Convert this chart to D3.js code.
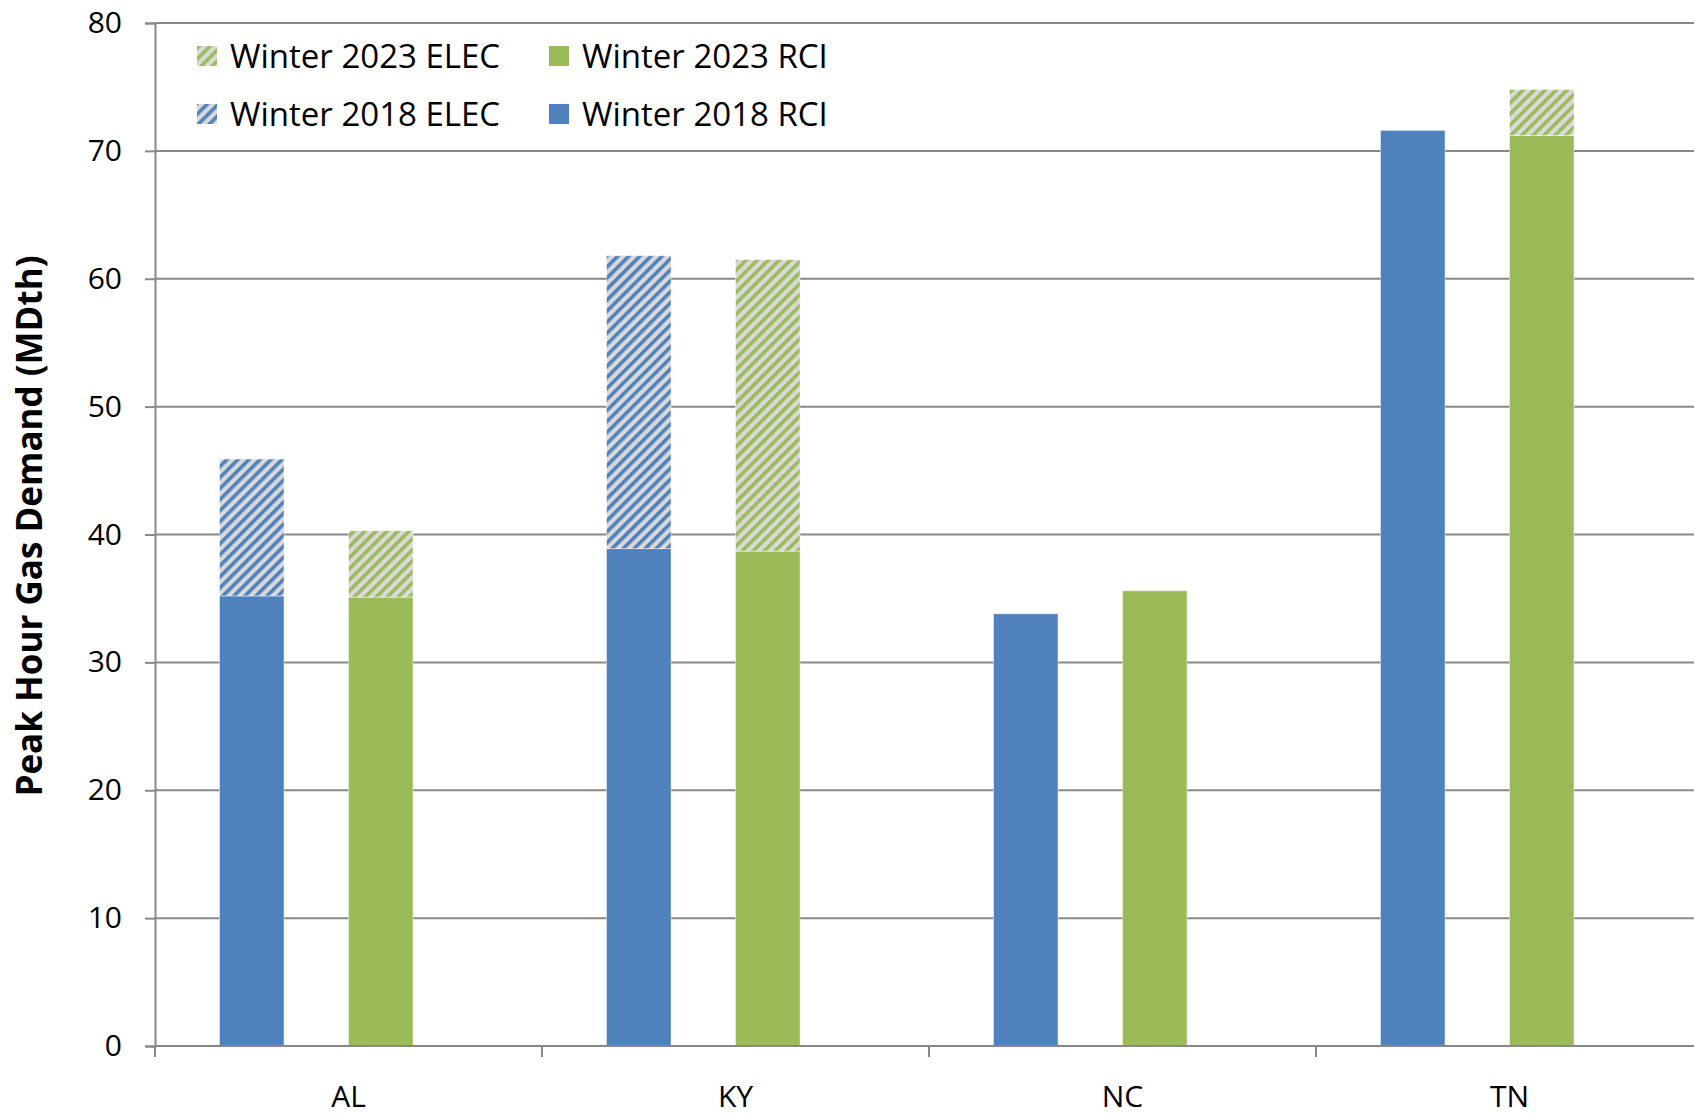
<!DOCTYPE html>
<html>
<head>
<meta charset="utf-8">
<script src="https://cdn.jsdelivr.net/npm/d3@7"></script>
<style>
  html, body { margin: 0; padding: 0; background: #ffffff; }
  svg { display: block; }
  text { font-family: "Open Sans", sans-serif; fill: #000; }
</style>
</head>
<body>
<svg id="chart" width="1694" height="1118"></svg>
<script>
// ---- data ----
const categories = ["AL", "KY", "NC", "TN"];
const rci2018 = [35.2, 38.9, 33.8, 71.6];
const elec2018 = [10.7, 22.9, 0, 0];
const rci2023 = [35.1, 38.7, 35.6, 71.2];
const elec2023 = [5.2, 22.8, 0, 3.6];
const yTicks = [0, 10, 20, 30, 40, 50, 60, 70, 80];
const legendLabels = ["Winter 2023 ELEC", "Winter 2023 RCI", "Winter 2018 ELEC", "Winter 2018 RCI"];
const yTitle = "Peak Hour Gas Demand (MDth)";

// ---- styles ----
const BLUE = "#4f81bd", GREEN = "#9bbb59", HATCH_BG = "#d9d9d9", GRID = "#888888";

const svg = d3.select("#chart");
svg.append("rect").attr("width", 1694).attr("height", 1118).attr("fill", "#fff");

const defs = svg.append("defs");
function hatch(id, color) {
  const p = defs.append("pattern")
    .attr("id", id).attr("patternUnits", "userSpaceOnUse")
    .attr("width", 7.8).attr("height", 7.8)
    .attr("patternTransform", "rotate(45)");
  p.append("rect").attr("width", 7.8).attr("height", 7.8).attr("fill", HATCH_BG);
  p.append("rect").attr("width", 3.6).attr("height", 7.8).attr("fill", color);
}
hatch("hBlue", BLUE);
hatch("hGreen", GREEN);

const left = 155, bandW = 387;
const x = d3.scaleBand().domain(categories).range([left, left + bandW * categories.length]).padding(0);
const y = d3.scaleLinear().domain([0, 80]).range([1046, 23]);

// gridlines
svg.append("g").selectAll("line").data(yTicks).join("line")
  .attr("x1", left).attr("x2", 1694)
  .attr("y1", d => y(d)).attr("y2", d => y(d))
  .attr("stroke", GRID).attr("stroke-width", 2);

// bars
const series = [
  { vals: rci2018, base: categories.map(() => 0), fill: BLUE, off: 1 / 6 },
  { vals: elec2018, base: rci2018, fill: "url(#hBlue)", off: 1 / 6 },
  { vals: rci2023, base: categories.map(() => 0), fill: GREEN, off: 3 / 6 },
  { vals: elec2023, base: rci2023, fill: "url(#hGreen)", off: 3 / 6 }
];
const bw = x.bandwidth() / 6;
series.forEach(s => {
  svg.append("g").selectAll("rect")
    .data(categories.map((c, i) => ({ c, v: s.vals[i], b: s.base[i] })).filter(d => d.v > 0))
    .join("rect")
    .attr("x", d => x(d.c) + x.bandwidth() * s.off)
    .attr("width", bw)
    .attr("y", d => y(d.b + d.v))
    .attr("height", d => y(d.b) - y(d.b + d.v))
    .attr("fill", s.fill)
    .attr("stroke", "rgba(255,255,255,0.45)").attr("stroke-width", 1);
});

// y axis
const yAxis = svg.append("g").attr("transform", `translate(${left},0)`)
  .call(d3.axisLeft(y).tickValues(yTicks).tickSize(10).tickPadding(23));
yAxis.select(".domain").attr("stroke", GRID).attr("stroke-width", 2);
yAxis.selectAll(".tick line").attr("stroke", GRID).attr("stroke-width", 2);
yAxis.selectAll(".tick text").style("font-family", "'Open Sans', sans-serif").style("font-size", "30px").attr("fill", "#000");

// x axis line & boundary ticks
svg.append("line").attr("x1", left).attr("x2", 1694).attr("y1", y(0)).attr("y2", y(0))
  .attr("stroke", GRID).attr("stroke-width", 2);
const bounds = categories.map(c => x(c)).concat([x(categories[categories.length - 1]) + x.bandwidth()]);
svg.append("g").selectAll("line").data(bounds).join("line")
  .attr("x1", d => d).attr("x2", d => d)
  .attr("y1", y(0)).attr("y2", y(0) + 11)
  .attr("stroke", GRID).attr("stroke-width", 2);
svg.append("g").selectAll("text").data(categories).join("text")
  .attr("x", d => x(d) + x.bandwidth() / 2)
  .attr("y", 1107)
  .attr("text-anchor", "middle")
  .style("font-size", "30px")
  .text(d => d);

// y title
svg.append("text")
  .attr("transform", `translate(42,526) rotate(-90)`)
  .attr("text-anchor", "middle")
  .style("font-size", "35px").style("font-weight", "bold")
  .text(yTitle);

// legend
const legendFills = ["url(#hGreen)", GREEN, "url(#hBlue)", BLUE];
const legendPos = [[197, 56], [549, 56], [197, 114], [549, 114]];
legendLabels.forEach((lab, i) => {
  const [lx, ly] = legendPos[i];
  svg.append("rect").attr("x", lx).attr("y", ly - 10).attr("width", 20).attr("height", 20)
    .attr("fill", legendFills[i]);
  svg.append("text").attr("x", lx + 33).attr("y", ly).attr("dy", "0.36em")
    .style("font-size", "33px").text(lab);
});
</script>
</body>
</html>
